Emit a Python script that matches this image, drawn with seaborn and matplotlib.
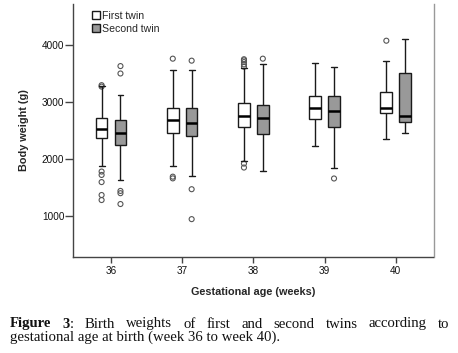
import numpy as np
import pandas as pd
import matplotlib
matplotlib.use("Agg")
import matplotlib.pyplot as plt
import seaborn as sns

weeks = ["36", "37", "38", "39", "40"]
twins = ["First twin", "Second twin"]

# five-number summaries: whisker low, Q1, median, Q3, whisker high
first_whislo = [1884, 1885, 1972, 2228, 2351]
first_q1 = [2368, 2455, 2567, 2702, 2807]
first_med = [2520, 2685, 2754, 2890, 2900]
first_q3 = [2714, 2895, 2988, 3110, 3181]
first_whishi = [3280, 3560, 3590, 3684, 3714]

second_whislo = [1630, 1710, 1790, 1842, 2456]
second_q1 = [2250, 2400, 2433, 2567, 2655]
second_med = [2452, 2640, 2714, 2847, 2760]
second_q3 = [2680, 2900, 2942, 3110, 3509]
second_whishi = [3117, 3555, 3672, 3609, 4100]

# outliers (open circles)
first_fliers = [
    [3270, 3295, 1780, 1720, 1595, 1368, 1280],
    [3760, 1690, 1660],
    [3620, 3660, 3700, 3730, 3750, 1920, 1850],
    [],
    [4075],
]
second_fliers = [
    [3630, 3500, 1440, 1400, 1210],
    [3725, 1470, 945],
    [3760],
    [1658],
    [],
]

rows = []
for twin, parts in [("First twin", [first_whislo, first_q1, first_med, first_q3, first_whishi]),
                    ("Second twin", [second_whislo, second_q1, second_med, second_q3, second_whishi])]:
    for i, wk in enumerate(weeks):
        for p in parts:
            rows.append({"week": wk, "twin": twin, "weight": p[i]})
df = pd.DataFrame(rows)

box_width = 0.53
frows = []
for twin, fl, side in [("First twin", first_fliers, -1), ("Second twin", second_fliers, 1)]:
    for i, vals in enumerate(fl):
        for v in vals:
            frows.append({"pos": i + side * box_width / 4, "weight": v})
fdf = pd.DataFrame(frows)

sns.set_style("white")
plt.rcParams["font.family"] = ["Liberation Sans", "DejaVu Sans"]

fig = plt.figure(figsize=(4.58, 3.53), dpi=100)
ax = fig.add_axes([73.3 / 458, 1 - 256.7 / 353, (433.5 - 73.3) / 458, (256.7 - 4) / 353])

sns.boxplot(data=df, x="week", y="weight", hue="twin", order=weeks, hue_order=twins,
            whis=(0, 100), width=box_width, gap=0.38, fliersize=0,
            palette={"First twin": "white", "Second twin": "#999999"},
            linecolor="#1a1a1a", linewidth=1.0,
            medianprops=dict(color="black", linewidth=1.8), ax=ax)

sns.scatterplot(data=fdf, x="pos", y="weight", marker="o", s=13,
                facecolor="none", edgecolor="#555555", linewidth=0.8,
                legend=False, ax=ax)

ax.set_xlim(-0.53, 4.53)
ax.set_ylim(286, 4719)
ax.set_yticks([1000, 2000, 3000, 4000])
ax.set_xticks(range(len(weeks)))
ax.set_xticklabels(weeks)

for s in ["left", "bottom"]:
    ax.spines[s].set_color("#444444")
    ax.spines[s].set_linewidth(1.0)
ax.spines["right"].set_color("#999999")
ax.spines["right"].set_linewidth(1.0)
ax.spines["top"].set_visible(False)

ax.tick_params(axis="both", which="both", direction="out", width=1,
               color="#444444", labelsize=7.2, labelcolor="#111111", left=True, bottom=True)
ax.tick_params(axis="y", length=5.5, pad=1)
ax.tick_params(axis="x", length=4.5, pad=2)
ax.set_xlabel("Gestational age (weeks)", fontsize=7.8, fontweight="bold", labelpad=8)
ax.set_ylabel("Body weight (g)", fontsize=7.8, fontweight="bold", labelpad=9)

handles, labels = ax.get_legend_handles_labels()
leg = ax.legend(handles, labels, loc="upper left", bbox_to_anchor=(0.042, 0.985),
                frameon=False, fontsize=7.6, handlelength=0.8, handleheight=0.8,
                handletextpad=0.15, labelspacing=0.3, borderpad=0.3, borderaxespad=0)

# caption, justified like the journal layout
fig.canvas.draw()
renderer = fig.canvas.get_renderer()
W, H = fig.bbox.width, fig.bbox.height
serif = ["Liberation Serif", "DejaVu Serif"]
cap_size = 10.6

line1 = [[("Figure", "bold")], [("3", "bold"), (":", "normal")], [("Birth", "normal")],
         [("weights", "normal")], [("of", "normal")], [("first", "normal")], [("and", "normal")],
         [("second", "normal")], [("twins", "normal")], [("according", "normal")], [("to", "normal")]]
line2 = "gestational age at birth (week 36 to week 40)."


def group_width(group):
    w = 0
    for txt, wt in group:
        t = fig.text(0, 0, txt, fontsize=cap_size, family=serif, fontweight=wt)
        w += t.get_window_extent(renderer).width
        t.remove()
    return w


x0, x1 = 10, 449
widths = [group_width(g) for g in line1]
gap = (x1 - x0 - sum(widths)) / (len(line1) - 1)
x = x0
y1 = H - 327.5
for g, gw in zip(line1, widths):
    xx = x
    for txt, wt in g:
        t = fig.text(xx / W, y1 / H, txt, fontsize=cap_size, family=serif, fontweight=wt,
                     va="baseline", ha="left", color="#111111")
        xx += t.get_window_extent(renderer).width
    x += gw + gap

fig.text(x0 / W, (H - 340.5) / H, line2, fontsize=cap_size, family=serif,
         va="baseline", ha="left", color="#111111")

fig.savefig("out.png", dpi=100)
